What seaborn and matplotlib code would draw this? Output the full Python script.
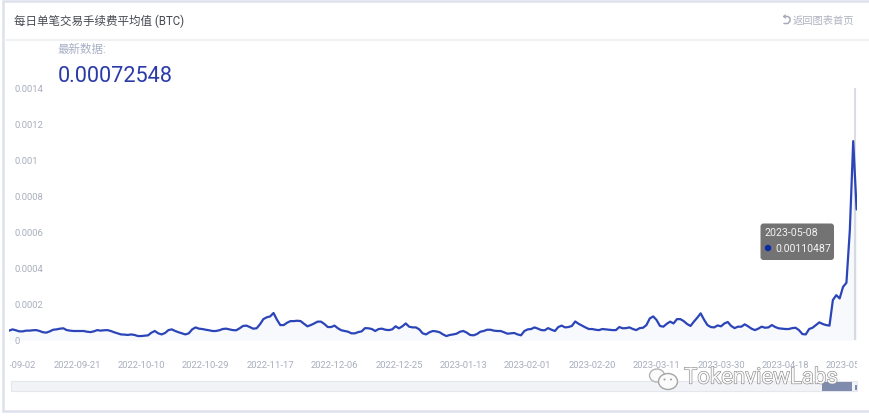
import numpy as np
import pandas as pd
import seaborn as sns
import matplotlib
matplotlib.use("Agg")
import matplotlib.pyplot as plt
import matplotlib.patheffects as pe
from matplotlib.patches import FancyBboxPatch, Rectangle, Ellipse, Circle
from matplotlib.transforms import Bbox

TITLE = "每日单笔交易手续费平均值 (BTC)"
BACK_LABEL = "返回图表首页"
LATEST_LABEL = "最新数据:"
LATEST_VALUE = "0.00072548"
TIP_DATE = "2023-05-08"
TIP_VALUE = "0.00110487"
WATERMARK = "TokenviewLabs"

start_date = "2022-09-01"
tick_start = "2022-09-02"
tick_step_days = 19
tick_count = 14
y_ticks = [0, 0.0002, 0.0004, 0.0006, 0.0008, 0.001, 0.0012, 0.0014]
y_labels = ["0", "0.0002", "0.0004", "0.0006", "0.0008", "0.001", "0.0012", "0.0014"]

# average fee per transaction, in units of 1e-5 BTC
fee_sep_oct = [5.2, 5.9, 5.4, 4.8, 4.8, 5.2, 5.2, 5.4, 5.5, 5.0, 4.3, 4.1, 4.8, 5.7, 5.9, 6.3, 6.5, 5.5, 5.2, 5.0,
               5.0, 5.0, 5.0, 4.6, 4.4, 4.8, 5.5, 5.2, 5.4, 5.5, 5.0, 4.3, 3.7, 3.1, 3.0, 2.8, 3.1, 2.8, 2.2, 2.2,
               2.4, 2.6, 4.1, 5.0, 3.7, 3.1, 3.9, 5.5, 5.9, 5.0]
fee_oct_dec = [4.3, 3.7, 3.1, 3.7, 5.9, 7.0, 6.3, 6.1, 5.7, 5.4, 5.0, 5.0, 5.4, 6.1, 6.3, 5.9, 5.5, 5.4, 6.5, 7.8,
               8.0, 7.2, 6.3, 6.5, 8.7, 11.6, 12.6, 13.1, 15.0, 11.3, 8.3, 8.3, 9.6, 10.5, 10.5, 10.7, 10.5, 9.0, 7.6, 8.3,
               9.2, 10.2, 10.2, 8.9, 7.2, 7.2, 8.0, 6.5, 5.4, 5.0]
fee_dec_jan = [4.6, 3.7, 3.7, 4.4, 4.8, 6.6, 6.5, 6.1, 5.0, 6.1, 6.3, 5.7, 5.5, 5.9, 7.6, 6.5, 7.6, 9.2, 7.4, 7.0,
               7.0, 5.9, 3.7, 3.1, 4.3, 5.0, 4.8, 4.3, 3.1, 2.2, 2.8, 3.1, 3.5, 4.6, 5.0, 4.1, 2.8, 2.6, 3.3, 4.6,
               5.0, 5.7, 5.7, 5.2, 5.0, 5.0, 4.3, 3.5, 3.7, 3.9]
fee_jan_mar = [3.1, 2.6, 5.0, 5.9, 6.1, 7.0, 6.3, 5.5, 5.4, 6.6, 5.7, 5.0, 7.2, 8.0, 7.0, 7.2, 7.8, 10.3, 9.0, 8.0,
               7.0, 6.1, 6.1, 5.7, 5.5, 6.1, 5.9, 5.7, 5.5, 5.5, 7.2, 6.5, 6.6, 7.0, 6.1, 5.5, 6.6, 6.8, 8.3, 12.0,
               13.1, 11.1, 7.8, 7.4, 9.0, 10.2, 9.2, 11.6, 11.6, 10.5]
fee_mar_may = [8.9, 7.8, 10.2, 12.4, 14.8, 11.3, 8.3, 7.2, 7.0, 8.1, 7.6, 9.2, 10.0, 7.8, 6.6, 7.4, 7.4, 8.7, 7.6, 6.3,
               5.5, 6.3, 7.4, 6.8, 7.0, 8.3, 7.2, 6.5, 6.3, 6.1, 6.1, 6.6, 6.8, 5.5, 3.3, 3.1, 6.1, 6.8, 8.3, 9.8,
               8.9, 8.3, 8.0, 22.2, 24.9, 23.1, 29.5, 31.8, 60.9, 110.487, 72.548]

fee = np.array(fee_sep_oct + fee_oct_dec + fee_dec_jan + fee_jan_mar + fee_mar_may) * 1e-5
dates = pd.date_range(start_date, periods=len(fee), freq="D")
df = pd.DataFrame({"date": dates, "fee": fee})
tick_dates = pd.date_range(tick_start, periods=tick_count, freq=f"{tick_step_days}D")
tick_labels = [d.strftime("%Y-%m-%d") for d in tick_dates]

sns.set_theme(style="white")
FONT = ["Roboto", "Noto Sans CJK SC", "DejaVu Sans"]
plt.rcParams["font.family"] = FONT

W, H = 869, 416
LINE = "#2b45b9"
AXIS_TEXT = "#a9aebd"

fig = plt.figure(figsize=(W / 100, H / 100), dpi=100, facecolor="white")

# pixel-space backdrop
bg = fig.add_axes([0, 0, 1, 1], zorder=0)
bg.set_xlim(0, W)
bg.set_ylim(H, 0)
bg.axis("off")
bg.add_patch(Rectangle((2.5, 1), W + 20, 409.5, fc="white", ec="#dde1ec", lw=1.8))
bg.add_patch(Rectangle((3.5, 39), W, 2, fc="#f0f1f5", ec="none"))
bg.add_patch(Rectangle((10.5, 381), 846.5, 10, fc="#f2f3f7", ec="#e5e7ef", lw=0.8))
bg.text(14, 21, TITLE, fontsize=8.3, color="#45484f", va="center", ha="left")
bg.text(793, 20.5, BACK_LABEL, fontsize=7.4, color="#aeb3c0", va="center", ha="left")
bg.text(57, 50, LATEST_LABEL, fontsize=8.3, color="#a7afc6", va="center", ha="left")
bg.text(57.5, 77, LATEST_VALUE, fontsize=15.6, color="#2a3ba8", va="center", ha="left")
# return icon
bg.plot([784, 788, 790, 790, 788, 784], [16.5, 16.5, 18, 21, 23.5, 23.5], color="#a6abba", lw=1.1)
bg.plot([785.5, 783.5, 785.5], [15, 16.5, 18], color="#a6abba", lw=0.9)
# crosshair
bg.plot([855, 855], [88, 340], color="#dcdde3", lw=1.5, solid_capstyle="butt")

# chart
x0, x1, y_top, y_bot = 9.1, 856.6, 88, 340
ax = fig.add_axes([x0 / W, 1 - y_bot / H, (x1 - x0) / W, (y_bot - y_top) / H], zorder=1)
ax.patch.set_alpha(0)
ax.fill_between(df["date"], 0, df["fee"], color="#4a62d8", alpha=0.035, lw=0)
sns.lineplot(data=df, x="date", y="fee", ax=ax, color=LINE, lw=1.6, errorbar=None)
ax.set_xlim(dates[0], dates[-1])
ax.set_ylim(0, 0.0014)
ax.set_xlabel("")
ax.set_ylabel("")
sns.despine(ax=ax, left=True, bottom=True)
ax.grid(False)
ax.set_yticks(y_ticks)
ax.set_yticklabels(y_labels, fontsize=6.8, color=AXIS_TEXT, ha="left")
ax.set_xticks(tick_dates)
ax.set_xticklabels(tick_labels, fontsize=6.8, color=AXIS_TEXT)
ax.tick_params(axis="y", length=0, pad=-4.0)
ax.tick_params(axis="x", length=0, pad=15)
clip = Bbox([[10, 0], [857, H]])
for t in ax.get_xticklabels():
    t.set_clip_box(clip)
    t.set_clip_on(True)

# overlay
ov = fig.add_axes([0, 0, 1, 1], zorder=2)
ov.set_xlim(0, W)
ov.set_ylim(H, 0)
ov.axis("off")
ov.patch.set_alpha(0)
ov.add_patch(Rectangle((822, 382), 30, 9, fc="#7f8cae", ec="none"))
ov.add_patch(Rectangle((855, 385), 2, 5, fc="#7f8cae", ec="none"))
ov.add_patch(FancyBboxPatch((762, 225), 70.5, 33.5, boxstyle="round,pad=1.5,rounding_size=3",
                            fc="#6e6e6e", ec="none", alpha=0.97))
ov.text(764.5, 233, TIP_DATE, fontsize=7.7, color="#f2f2f2", va="center", ha="left")
ov.add_patch(Circle((768, 248), 3.2, fc="#0b2aa6", ec="none"))
ov.text(775, 248.5, TIP_VALUE, fontsize=7.6, color="#f5f5f5", va="center", ha="left")

# watermark
stroke = [pe.withStroke(linewidth=0.9, foreground="#8c8c8c")]
ov.add_patch(Ellipse((657, 375.5), 15, 13, fc="#fbfbfb", ec="#b5b5b5", lw=1))
ov.add_patch(Ellipse((668, 381.5), 19, 16, fc="#fbfbfb", ec="#a5a5a5", lw=1))
ov.add_patch(Circle((664.5, 379.5), 1, fc="#a0a0a0", ec="none"))
ov.add_patch(Circle((671, 379.5), 1, fc="#a0a0a0", ec="none"))
wm = ov.text(684, 378, WATERMARK, fontsize=16, color="#f9f9f9", va="center", ha="left", path_effects=stroke)

fig.savefig("out.png", dpi=100, facecolor="white")
